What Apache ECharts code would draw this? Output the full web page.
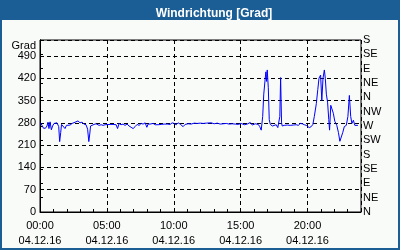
<!DOCTYPE html>
<html><head><meta charset="utf-8">
<script src="https://cdn.jsdelivr.net/npm/echarts@6/dist/echarts.min.js"></script>
<style>html,body{margin:0;padding:0;background:#fff}#c{width:400px;height:250px}</style>
</head><body><div id="c"></div>
<script>
var titleText = 'Windrichtung [Grad]';
var unitLabel = 'Grad';
var dateLabel = '04.12.16';
var hourTicks = [0, 5, 10, 15, 20];
var dirLabels = ['N','NE','E','SE','S','SW','W','NW','N','NE','E','SE','S'];
var hours = [0.05,0.15,0.26,0.41,0.52,0.60,0.67,0.75,0.85,0.94,1.05,1.16,1.27,1.40,1.47,1.55,1.61,1.72,1.87,1.98,2.10,2.25,2.40,2.54,2.69,2.84,2.99,3.14,3.29,3.44,3.56,3.65,3.72,3.78,3.89,4.04,4.19,4.27,4.42,4.57,4.72,4.87,5.01,5.24,5.46,5.69,5.80,5.91,6.06,6.21,6.36,6.51,6.66,6.81,6.96,7.11,7.26,7.41,7.56,7.71,7.86,7.99,8.08,8.23,8.46,8.61,8.83,9.06,9.28,9.51,9.73,9.88,10.03,10.18,10.33,10.48,10.70,10.85,11.08,11.30,11.53,11.75,11.98,12.20,12.43,12.57,12.80,13.02,13.25,13.47,13.70,13.92,14.15,14.37,14.60,14.82,15.04,15.27,15.49,15.72,15.87,16.09,16.32,16.43,16.54,16.65,16.73,16.84,16.89,16.94,16.99,17.07,17.14,17.22,17.37,17.51,17.66,17.78,17.85,17.93,17.99,18.06,18.11,18.26,18.49,18.71,18.94,19.16,19.31,19.46,19.61,19.76,19.91,20.02,20.13,20.28,20.40,20.51,20.66,20.77,20.86,20.92,20.98,21.07,21.16,21.26,21.33,21.41,21.50,21.59,21.65,21.74,21.82,21.93,22.04,22.19,22.31,22.42,22.53,22.64,22.75,22.90,23.02,23.13,23.23,23.32,23.43,23.54,23.65,23.77];
var direction = [280,272,263,263,270,282,262,283,258,270,278,272,280,268,221,250,275,272,262,272,275,273,278,276,283,286,280,282,276,274,260,221,245,270,274,275,277,272,272,274,272,274,276,275,275,274,262,278,274,276,272,276,270,266,262,268,275,272,278,276,280,266,276,276,278,274,274,275,276,276,275,280,278,274,280,276,268,275,277,276,279,278,279,278,279,278,280,277,279,276,277,278,276,277,276,275,278,274,276,281,273,277,275,268,257,300,370,420,440,410,446,390,290,275,270,276,274,265,268,300,422,280,270,272,273,272,273,274,272,278,277,274,272,271,265,268,275,300,340,385,420,415,430,350,420,446,420,370,345,290,257,335,340,310,285,272,250,222,228,250,268,272,300,366,300,278,288,272,268,272];

var seriesData = hours.map(function(h, i){ return [h, direction[i]]; });
var font = 'Liberation Sans';
var chart = echarts.init(document.getElementById('c'), null, {renderer:'canvas'});
chart.setOption({
  animation: false,
  backgroundColor: '#f9fbf9',
  title: {text: titleText, left: 209, top: 3, textAlign: 'center',
    textStyle: {color:'#fff', fontFamily: font, fontWeight:'bold', fontSize: 12}},
  graphic: [
    {type:'rect', shape:{x:0,y:0,width:400,height:20}, style:{fill:'#1b5e95'}, z:-1},
    {type:'rect', shape:{x:1,y:1,width:398,height:248}, style:{fill:'none', stroke:'#1b5e95', lineWidth:2}, z:-1},
    {type:'text', x:36, y:46, style:{text: unitLabel, align:'right', verticalAlign:'middle', fill:'#000', font:'11px "Liberation Sans"'}}
  ],
  grid: {left:40, top:40, right:39, bottom:38, show:true, borderColor:'#000', borderWidth:1, backgroundColor:'transparent'},
  xAxis: [{
    type:'value', min:0, max:24, interval:5,
    axisLine:{show:true, lineStyle:{color:'#000'}},
    axisTick:{show:false},
    splitLine:{show:true, lineStyle:{color:'#000', type:[4,3], width:1}},
    axisLabel:{showMaxLabel:false, color:'#000', fontFamily:font, fontSize:11, lineHeight:15, margin:6,
      formatter:function(v){ var h = hourTicks.indexOf(v) >= 0 ? v : v; return (h<10?'0':'')+h+':00\n'+dateLabel; }}
  },{
    type:'value', min:0, max:24, interval:1, position:'bottom',
    axisLine:{show:false}, axisLabel:{show:false}, splitLine:{show:false},
    axisTick:{show:true, inside:true, length:3, lineStyle:{color:'#000'}}
  }],
  yAxis: [{
    type:'value', min:0, max:540, interval:70, position:'left',
    axisLine:{show:true, lineStyle:{color:'#000'}},
    axisTick:{show:false},
    splitLine:{show:true, lineStyle:{color:'#000', type:[4,3], width:1}},
    axisLabel:{showMaxLabel:false, color:'#000', fontFamily:font, fontSize:11, margin:4}
  },{
    type:'value', min:0, max:540, interval:45, position:'right',
    axisLine:{show:true, lineStyle:{color:'#000'}},
    axisTick:{show:true, length:3, lineStyle:{color:'#000'}},
    splitLine:{show:false},
    axisLabel:{color:'#000', fontFamily:font, fontSize:11, margin:2,
      formatter:function(v){ return dirLabels[Math.round(v/45)]; }}
  }],
  series: [{
    type:'line', data: seriesData, xAxisIndex:0, yAxisIndex:0,
    showSymbol:false, symbol:'none', lineStyle:{color:'#0000ff', width:1}
  }]
});
</script></body></html>
